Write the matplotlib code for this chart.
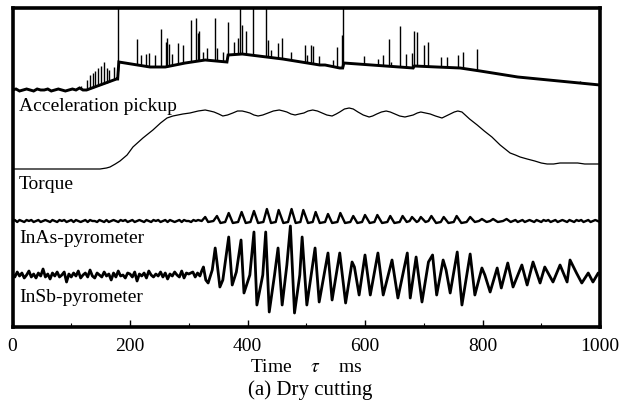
import numpy as np
import matplotlib
matplotlib.use("Agg")
import matplotlib.pyplot as plt

# ---------------- data (time in ms, amplitudes in arbitrary units) ----------------
# Acceleration pickup: quiet start (sampled every 6 ms), then the drifting baseline
accel_quiet_t0, accel_quiet_dt = 0, 6
accel_quiet = [0, 1, -1, 0, 1, 0, -1, 1, 0, 0, 1, -1, 0, 1, 0, -1, 0, 1, 0, 2, 0]
accel_base_t = [126, 177, 179, 181, 234, 260, 294, 328, 365, 367, 391, 460, 523, 532,
                557, 562, 564, 682, 684, 722, 762, 796, 860, 1000]
accel_base = [0, 11, 11, 28, 23, 23, 27, 30, 28, 35, 36, 31, 25, 25,
              22, 22, 27, 22, 24, 23, 22, 19, 13, 5]
accel_spike_t = [117, 127, 132, 137, 141, 146, 150, 156, 160, 164, 173, 180,
                 212, 218, 227, 233, 242, 252, 261, 263, 266, 271, 282, 290,
                 304, 312, 315, 318, 324, 331, 345, 348, 358, 367, 377, 384,
                 387, 390, 397, 409, 431, 435, 440, 452, 459, 474, 498, 501,
                 508, 512, 522, 545, 552, 561, 563, 598, 622, 631, 641, 645,
                 659, 669, 680, 684, 688, 700, 707, 729, 739, 758, 767, 791, 966]
accel_spike_top = [4, 10, 15, 17, 19, 22, 24, 28, 22, 20, 23, 90,
                   51, 35, 36, 37, 35, 61, 48, 52, 46, 36, 47, 45,
                   70, 72, 57, 59, 38, 42, 72, 42, 38, 68, 48, 52,
                   90, 65, 59, 90, 90, 50, 40, 47, 52, 38, 45, 35,
                   45, 44, 34, 30, 43, 55, 90, 34, 31, 35, 51, 28,
                   64, 36, 37, 59, 58, 45, 48, 33, 33, 35, 38, 41, 9]

# Torque
torque_t = [0, 100, 149, 160, 166, 175, 183, 195, 205, 222, 239, 252, 263, 273, 290,
            302, 316, 328, 336, 343, 351, 358, 366, 375, 383, 391, 398, 404, 411, 418,
            426, 435, 444, 454, 461, 467, 474, 481, 488, 496, 503, 511, 519, 527, 535,
            544, 551, 557, 565, 573, 580, 588, 597, 607, 613, 620, 628, 636, 643, 651,
            659, 668, 675, 682, 689, 695, 703, 711, 720, 731, 738, 745, 752, 758, 765,
            778, 791, 803, 816, 830, 847, 856, 864, 876, 889, 900, 910, 921, 932, 949,
            962, 974, 987, 1000]
torque = [0, 0, 0, 1, 2, 5, 8, 14, 22, 31, 39, 46, 51, 53, 55,
          56, 58, 59, 58, 57, 55, 53, 54, 56, 58, 58, 57, 56, 54, 53,
          54, 56, 58, 59, 58, 57, 55, 54, 55, 56, 58, 59, 58, 56, 54,
          53, 55, 57, 60, 61, 60, 57, 54, 52, 53, 55, 57, 58, 57, 55,
          53, 52, 53, 54, 56, 57, 56, 55, 53, 51, 53, 55, 57, 58, 57,
          50, 44, 38, 32, 24, 16, 14, 12, 10, 8, 6, 5, 5, 6, 6,
          6, 5, 5, 5]

# InAs-pyrometer: noisy start (every 4 ms), oscillation, noisy end (every 4 ms)
inas_pre_t0, inas_pre_dt = 0, 4
inas_pre = [0, 1, -1, 1, 0, -1, 1, 0, 1, -1, 0, 1, -1, 0, 1, 0, -1, 1, 0, -1,
            1, 0, 1, -1, 0, 1, -1, 1, 0, -1, 0, 1, -1, 1, 0, 0, -1, 1, 0, -1,
            1, -1, 0, 1, 0, -1, 1, 0, 1, -1, 0, 1, -1, 0, 1, 0, -1, 1, 0, -1,
            1, 0, 1, -1, 0, 1, -1, 1, 0, -1, 0, 1, -1, 1, 0, 0, -1, 1, 0, 1]
inas_osc_t = [322, 328, 333, 342, 348, 354, 362, 368, 375, 384, 390, 397, 405, 411,
              418, 427, 433, 440, 448, 453, 461, 469, 475, 482, 490, 495, 503, 511,
              516, 523, 532, 537, 544, 553, 558, 566, 575, 580, 587, 595, 600, 608,
              616, 621, 629, 638, 643, 650, 659, 664, 671, 676, 680, 688, 691, 695,
              703, 708, 713, 721, 729, 734, 742, 751, 756, 764, 773, 779, 787, 794,
              799, 807, 813, 818, 826, 835, 841, 848]
inas_osc = [0, 4, -1, 0, 5, -2, -1, 8, -2, -1, 9, -2, -1, 10,
            -2, -1, 12, -2, -1, 11, -2, -1, 12, -2, -1, 11, -2, -1,
            9, -2, -1, 7, -2, -1, 8, -2, -1, 5, -2, -1, 6, -2,
            -1, 6, -2, -1, 5, -2, -1, 5, -1, 0, 4, -1, 0, 4,
            -1, 0, 5, -2, -1, 4, -2, -1, 5, -2, -1, 4, -1, 0,
            2, -1, 0, 2, -1, 0, 2, -1]
inas_post_t0, inas_post_dt = 852, 4
inas_post = [0, 1, -1, 0, 1, -1, 0, 1, 0, -1, 1, 0, -1, 1, 0, 1, -1, 0, 1, -1,
             0, 1, 0, -1, 1, 0, -1, 1, 0, 1, -1, 0, 1, -1, 0, 1, 0, -1]

# InSb-pyrometer: noisy start (every 4 ms), then large oscillation
insb_pre_t0, insb_pre_dt = 0, 4
insb_pre = [1, -2, 3, -1, 2, -3, 0, 4, -2, 1, -3, 2, -1, 6, -2, 1, -4, 2, -1, 3,
            -2, 0, 3, -7, 1, -2, 2, -1, 4, -3, 0, 2, -2, 5, -1, -3, 2, 0, -2, 3,
            -1, 1, -5, 2, -2, 4, -1, 0, -3, 2, 1, -2, 3, -6, 1, -1, 2, -3, 4, 0,
            -2, 1, -1, 3, -2, 2, -4, 1, -1, 3, 0, -2, 4, -3, 2, 1]
insb_osc_t = [307, 311, 315, 319, 322, 325, 329, 333, 340, 345, 348, 353, 358, 368,
              374, 381, 389, 394, 404, 411, 416, 426, 431, 437, 446, 452, 459, 467,
              473, 480, 489, 493, 501, 515, 522, 537, 544, 557, 567, 578, 582, 590,
              600, 609, 622, 631, 646, 656, 672, 677, 687, 697, 708, 715, 722, 733,
              738, 745, 757, 765, 779, 787, 799, 804, 813, 825, 832, 843, 852, 867,
              876, 886, 898, 906, 920, 932, 944, 949, 960, 969, 980, 988, 997, 1000]
insb_osc = [3, -2, 2, -1, 4, 8, -5, -8, 5, 27, 13, -12, -5, 38,
            -10, 3, 35, -18, 0, 43, -30, 0, 43, -37, 0, 27, -30, 10,
            49, -38, 0, 38, -30, 27, -27, 22, -25, 22, -28, 13, 8, -20,
            20, -20, 22, -20, 15, -23, 22, -23, 18, -27, 13, 20, -20, 15,
            5, -18, 23, -30, 21, -20, 7, 0, -17, 7, -13, 12, -12, 10,
            -10, 13, -8, 8, -7, 10, -7, 15, 2, -8, 2, -7, 2, 0]

labels = ["Acceleration pickup", "Torque", "InAs-pyrometer", "InSb-pyrometer"]
x_ticks = [0, 200, 400, 600, 800, 1000]
x_minor = [100, 300, 500, 700, 900]

# ---------------- layout / style ----------------
W, H = 634, 401
serif = "Liberation Serif"
plt.rcParams["font.family"] = serif
plt.rcParams["mathtext.fontset"] = "stix"

fig = plt.figure(figsize=(W / 100, H / 100), dpi=100)
ax_l, ax_r, ax_t, ax_b = 12.5, 600, 8, 327
ax = fig.add_axes([ax_l / W, (H - ax_b) / H, (ax_r - ax_l) / W, (ax_b - ax_t) / H])
ax.set_xlim(0, 1000)
ax.set_ylim(0, ax_b - ax_t)

off_accel, off_torque, off_inas, off_insb = 237, 158, 106, 52

# acceleration pickup
a_t = np.concatenate([accel_quiet_t0 + accel_quiet_dt * np.arange(len(accel_quiet)), accel_base_t])
a_y = np.concatenate([accel_quiet, accel_base])
ax.plot(a_t, a_y + off_accel, color="black", lw=2.1, solid_joinstyle="miter")
spk_t = np.array(accel_spike_t)
spk_base = np.interp(spk_t, a_t, a_y)
ax.vlines(spk_t, spk_base + off_accel, np.array(accel_spike_top) + off_accel,
          color="black", lw=1.0)

# torque
ax.plot(torque_t, np.array(torque) + off_torque, color="black", lw=0.9)

# InAs
i_t = np.concatenate([inas_pre_t0 + inas_pre_dt * np.arange(len(inas_pre)), inas_osc_t,
                      inas_post_t0 + inas_post_dt * np.arange(len(inas_post))])
i_y = np.concatenate([inas_pre, inas_osc, inas_post])
ax.plot(i_t, i_y + off_inas, color="black", lw=1.7)

# InSb
s_t = np.concatenate([insb_pre_t0 + insb_pre_dt * np.arange(len(insb_pre)), insb_osc_t])
s_y = np.concatenate([insb_pre, insb_osc])
ax.plot(s_t, s_y + off_insb, color="black", lw=2.0)

# trace labels
lab_y = [216, 138, 84, 25]
for txt, yy in zip(labels, lab_y):
    ax.text(11, yy, txt, fontsize=14, family=serif, va="baseline", ha="left")

# frame & ticks
for sp in ax.spines.values():
    sp.set_linewidth(2.6)
ax.set_yticks([])
ax.set_xticks(x_ticks)
ax.set_xticks(x_minor, minor=True)
ax.set_xticklabels([str(v) for v in x_ticks])
ax.tick_params(axis="x", which="major", direction="in", length=5, width=1,
               labelsize=14, pad=8)
ax.tick_params(axis="x", which="minor", direction="in", length=3, width=0.8)
for lbl in ax.get_xticklabels():
    lbl.set_family(serif)

# axis title lines
def fx(px):
    return px / W

def fy(py):
    return (H - py) / H

fig.text(fx(306), fy(372), "Time    $\\tau$    ms", fontsize=14, family=serif,
         ha="center", va="baseline")
fig.text(fx(310), fy(395), "(a) Dry cutting", fontsize=15, family=serif,
         ha="center", va="baseline")

fig.savefig("out.png", dpi=100)
